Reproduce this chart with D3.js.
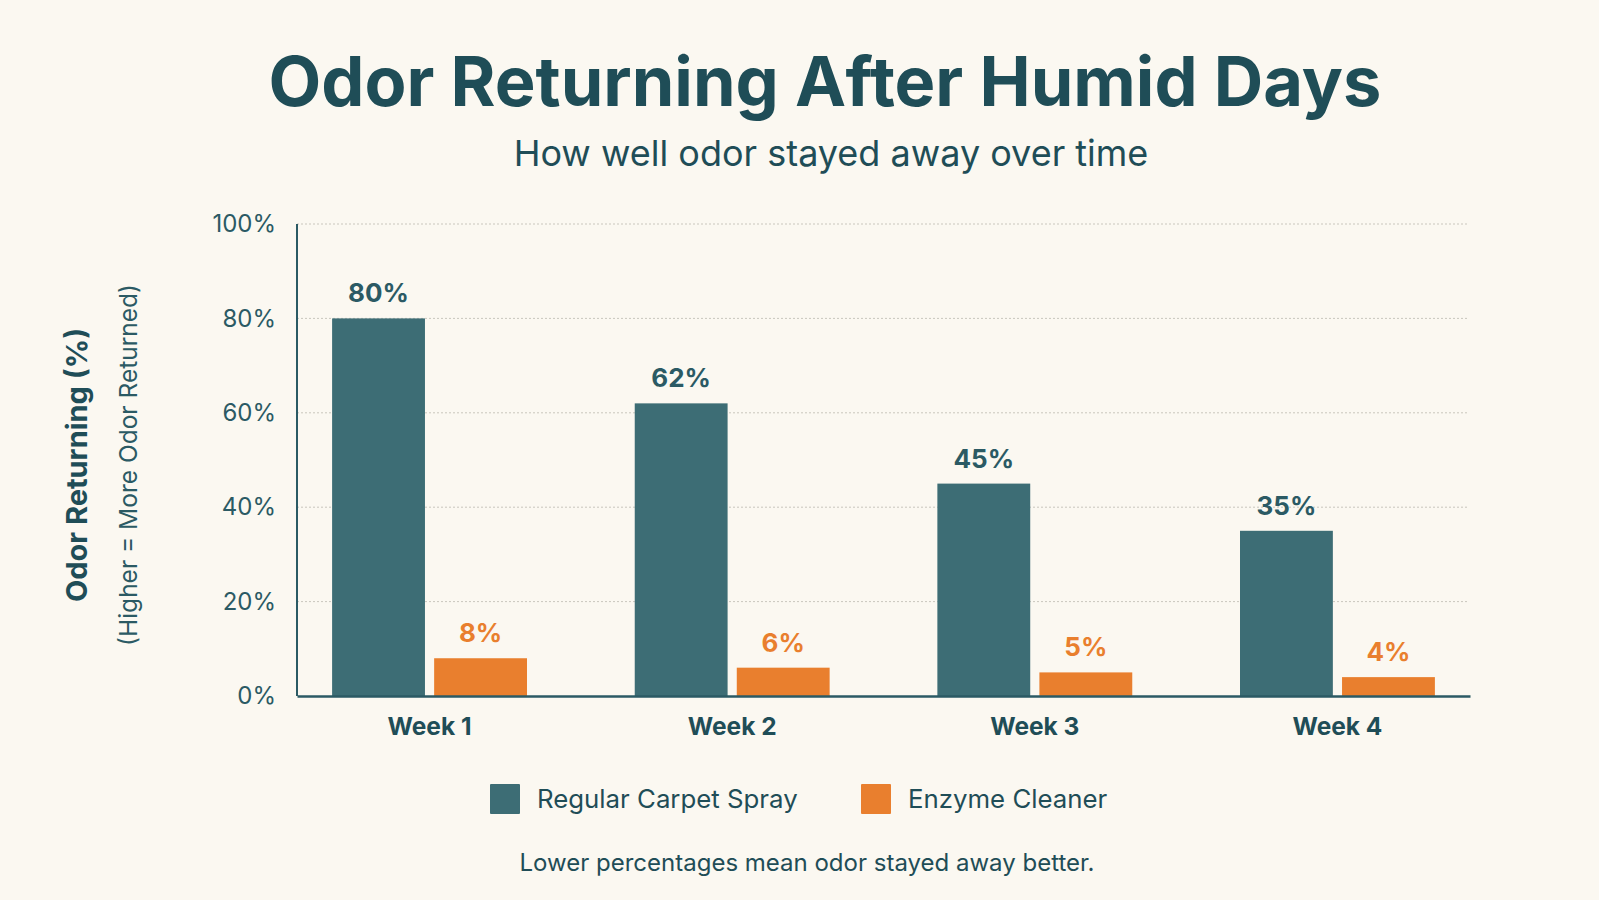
<!DOCTYPE html>
<html>
<head>
<meta charset="utf-8">
<script src="https://cdn.jsdelivr.net/npm/d3@7.9.0/dist/d3.min.js"></script>
<style>
  html, body { margin: 0; padding: 0; background: #fbf8f1; }
  svg { display: block; font-family: Inter, "Noto Sans", sans-serif; }
</style>
</head>
<body>
<svg id="chart" width="1599" height="900"></svg>
<script>
// chart data
const weeks = ['Week 1', 'Week 2', 'Week 3', 'Week 4'];
const seriesNames = ['Regular Carpet Spray', 'Enzyme Cleaner'];
const regularSpray = [80, 62, 45, 35];
const enzymeCleaner = [8, 6, 5, 4];
const yTicks = [0, 20, 40, 60, 80, 100];

const colors = { 'Regular Carpet Spray': '#3d6d75', 'Enzyme Cleaner': '#e97f2e' };
const ink = '#1f4d57';

const svg = d3.select('#chart');

const margin = { top: 224, right: 129, bottom: 204, left: 297 };
const width = 1599 - margin.left - margin.right;
const height = 900 - margin.top - margin.bottom;

const g = svg.append('g').attr('transform', `translate(${margin.left},${margin.top})`);

const x0 = d3.scaleBand().domain(weeks).range([0, width])
    .paddingInner(0.356).paddingOuter(0.116);
const x1 = d3.scaleBand().domain(seriesNames).range([0, x0.bandwidth()])
    .paddingInner(0.09);
const y = d3.scaleLinear().domain([0, 100]).range([height, 0]);

// titles
svg.append('text')
    .attr('x', 825).attr('y', 106)
    .attr('text-anchor', 'middle')
    .attr('font-size', 68.5).attr('font-weight', 700)
    .attr('fill', ink)
    .text('Odor Returning After Humid Days');

svg.append('text')
    .attr('x', 831).attr('y', 166)
    .attr('text-anchor', 'middle')
    .attr('font-size', 36)
    .attr('fill', ink)
    .text('How well odor stayed away over time');

// gridlines
g.append('g')
    .selectAll('line')
    .data(yTicks.filter(d => d > 0))
    .join('line')
    .attr('x1', 0).attr('x2', width - 1)
    .attr('y1', d => y(d)).attr('y2', d => y(d))
    .attr('stroke', '#c9c6bd')
    .attr('stroke-width', 1)
    .attr('stroke-dasharray', '2,2');

// y axis
const yAxis = g.append('g')
    .call(d3.axisLeft(y).tickValues(yTicks).tickFormat(d => d + '%').tickSize(0).tickPadding(21));
yAxis.select('.domain').remove();
yAxis.selectAll('text')
    .attr('font-size', 24)
    .attr('fill', '#2b5a64')
    .attr('font-family', 'Inter, sans-serif');

// bars
const groups = g.append('g')
    .selectAll('g')
    .data(weeks.map((w, i) => ({ week: w, values: [regularSpray[i], enzymeCleaner[i]] })))
    .join('g')
    .attr('transform', d => `translate(${x0(d.week)},0)`);

groups.selectAll('rect')
    .data(d => d.values.map((v, j) => ({ name: seriesNames[j], value: v })))
    .join('rect')
    .attr('x', d => x1(d.name))
    .attr('y', d => y(d.value))
    .attr('width', x1.bandwidth())
    .attr('height', d => height - y(d.value))
    .attr('fill', d => colors[d.name]);

groups.selectAll('text.value')
    .data(d => d.values.map((v, j) => ({ name: seriesNames[j], value: v })))
    .join('text')
    .attr('class', 'value')
    .attr('x', d => x1(d.name) + x1.bandwidth() / 2)
    .attr('y', d => y(d.value) - 16)
    .attr('text-anchor', 'middle')
    .attr('font-size', 26).attr('font-weight', 700)
    .attr('fill', d => d.name === 'Enzyme Cleaner' ? '#e97f2e' : '#2b5a64')
    .text(d => d.value + '%');

// axis lines
g.append('line')
    .attr('x1', 0).attr('x2', 0).attr('y1', 0).attr('y2', height)
    .attr('stroke', '#2b5a64').attr('stroke-width', 2);

const xAxis = g.append('g')
    .attr('transform', `translate(0,${height})`)
    .call(d3.axisBottom(x0).tickSize(0).tickPadding(22));
xAxis.select('.domain').attr('stroke', '#2b5a64').attr('stroke-width', 2.5);
xAxis.selectAll('text')
    .attr('font-size', 24.5).attr('font-weight', 700)
    .attr('fill', ink)
    .attr('font-family', 'Inter, sans-serif');

// y axis title
svg.append('text')
    .attr('transform', 'translate(87,465) rotate(-90)')
    .attr('text-anchor', 'middle')
    .attr('font-size', 29).attr('font-weight', 700)
    .attr('fill', ink)
    .text('Odor Returning (%)');

svg.append('text')
    .attr('transform', 'translate(137,465) rotate(-90)')
    .attr('text-anchor', 'middle')
    .attr('font-size', 24.5)
    .attr('fill', '#2b5a64')
    .text('(Higher = More Odor Returned)');

// legend
const legendX = [490, 861];
const legend = svg.append('g')
    .selectAll('g')
    .data(seriesNames)
    .join('g')
    .attr('transform', (d, i) => `translate(${legendX[i]},784)`);

legend.append('rect')
    .attr('width', 30).attr('height', 30)
    .attr('rx', 1)
    .attr('fill', d => colors[d]);

legend.append('text')
    .attr('x', 47).attr('y', 24)
    .attr('font-size', 25.8)
    .attr('fill', ink)
    .text(d => d);

// footnote
svg.append('text')
    .attr('x', 807).attr('y', 871)
    .attr('text-anchor', 'middle')
    .attr('font-size', 24)
    .attr('fill', ink)
    .text('Lower percentages mean odor stayed away better.');
</script>
</body>
</html>
